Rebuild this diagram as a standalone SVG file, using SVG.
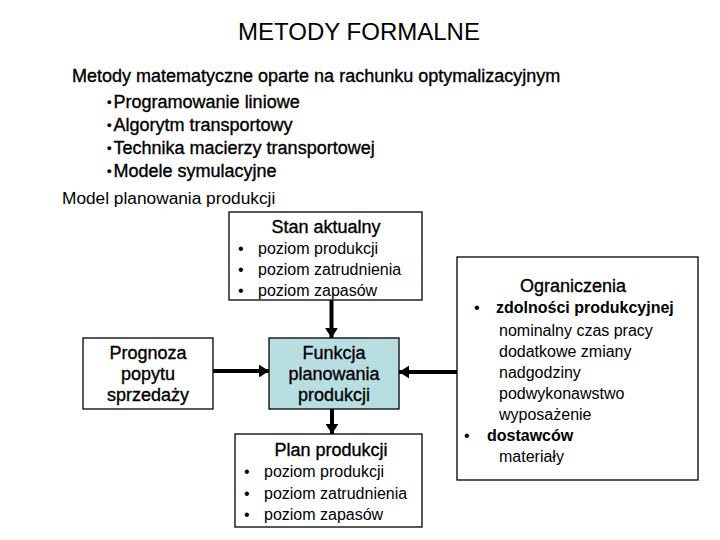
<svg xmlns="http://www.w3.org/2000/svg" width="720" height="540" viewBox="0 0 720 540">
<defs>
<style>
text{font-family:"Liberation Sans",Arial,sans-serif;fill:#000}
.t18{font-size:18px}
.t16{font-size:16px}
.b{font-weight:bold}
.h{stroke:#000;stroke-width:0.35}
.sb{font-size:13px}
.box{fill:#fff;stroke:#000;stroke-width:1.3}
.conn{stroke:#000;stroke-width:4;fill:none}
</style>
<marker id="ah" viewBox="0 0 8 10" markerWidth="2.5" markerHeight="3.2" refX="8" refY="5" orient="auto" preserveAspectRatio="none">
<path d="M0,0 L8,5 L0,10 z" fill="#000"/>
</marker>
</defs>
<rect width="720" height="540" fill="#fff"/>
<g id="header">
<text x="359" y="40" font-size="24" text-anchor="middle">METODY FORMALNE</text>
<text x="72" y="82" class="t18 h">Metody matematyczne oparte na rachunku optymalizacyjnym</text>
<text x="107" y="108" class="t18 h"><tspan class="sb" dy="-1">•</tspan><tspan dx="2" dy="1">Programowanie liniowe</tspan></text>
<text x="107" y="131" class="t18 h"><tspan class="sb" dy="-1">•</tspan><tspan dx="2" dy="1">Algorytm transportowy</tspan></text>
<text x="107" y="154" class="t18 h"><tspan class="sb" dy="-1">•</tspan><tspan dx="2" dy="1">Technika macierzy transportowej</tspan></text>
<text x="107" y="177" class="t18 h"><tspan class="sb" dy="-1">•</tspan><tspan dx="2" dy="1">Modele symulacyjne</tspan></text>
<text x="62" y="204" font-size="17.3">Model planowania produkcji</text>
</g>
<g id="connectors">
<line class="conn" x1="331.5" y1="300" x2="331.5" y2="338" marker-end="url(#ah)"/>
<line class="conn" x1="213" y1="371" x2="269" y2="371" marker-end="url(#ah)"/>
<line class="conn" x1="457" y1="372" x2="399" y2="372" marker-end="url(#ah)"/>
<line class="conn" x1="332" y1="409" x2="332" y2="434" marker-end="url(#ah)"/>
</g>
<g id="stan">
<rect class="box" x="229" y="212" width="193" height="88"/>
<text x="326" y="233" class="t18 h" text-anchor="middle">Stan aktualny</text>
<text x="238" y="254" class="t16">•</text><text x="258" y="254" class="t16">poziom produkcji</text>
<text x="238" y="275" class="t16">•</text><text x="258" y="275" class="t16">poziom zatrudnienia</text>
<text x="238" y="296" class="t16">•</text><text x="258" y="296" class="t16">poziom zapasów</text>
</g>
<g id="prognoza">
<rect class="box" x="83" y="338" width="130" height="71"/>
<text x="148" y="359" class="t18 h" text-anchor="middle">Prognoza</text>
<text x="148" y="380" class="t18 h" text-anchor="middle">popytu</text>
<text x="148" y="401" class="t18 h" text-anchor="middle">sprzedaży</text>
</g>
<g id="funkcja">
<rect class="box" x="269" y="338" width="130" height="71" style="fill:#b9dee2"/>
<text x="334" y="359" class="t18 h" text-anchor="middle">Funkcja</text>
<text x="334" y="380" class="t18 h" text-anchor="middle">planowania</text>
<text x="334" y="401" class="t18 h" text-anchor="middle">produkcji</text>
</g>
<g id="plan">
<rect class="box" x="235" y="434" width="187" height="93"/>
<text x="331" y="456" class="t18 h" text-anchor="middle">Plan produkcji</text>
<text x="244" y="477" class="t16">•</text><text x="264" y="477" class="t16">poziom produkcji</text>
<text x="244" y="499" class="t16">•</text><text x="264" y="499" class="t16">poziom zatrudnienia</text>
<text x="244" y="520" class="t16">•</text><text x="264" y="520" class="t16">poziom zapasów</text>
</g>
<g id="ograniczenia">
<rect class="box" x="457" y="257" width="241" height="223"/>
<text x="573" y="292" class="t18 h" text-anchor="middle">Ograniczenia</text>
<text x="474" y="313" class="t16">•</text><text x="496" y="313" class="t16 b">zdolności produkcyjnej</text>
<text x="499" y="336" class="t16">nominalny czas pracy</text>
<text x="499" y="357" class="t16">dodatkowe zmiany</text>
<text x="499" y="378" class="t16">nadgodziny</text>
<text x="499" y="399" class="t16">podwykonawstwo</text>
<text x="499" y="420" class="t16">wyposażenie</text>
<text x="464" y="441" class="t16">•</text><text x="487" y="441" class="t16 b">dostawców</text>
<text x="499" y="462" class="t16">materiały</text>
</g>
</svg>
